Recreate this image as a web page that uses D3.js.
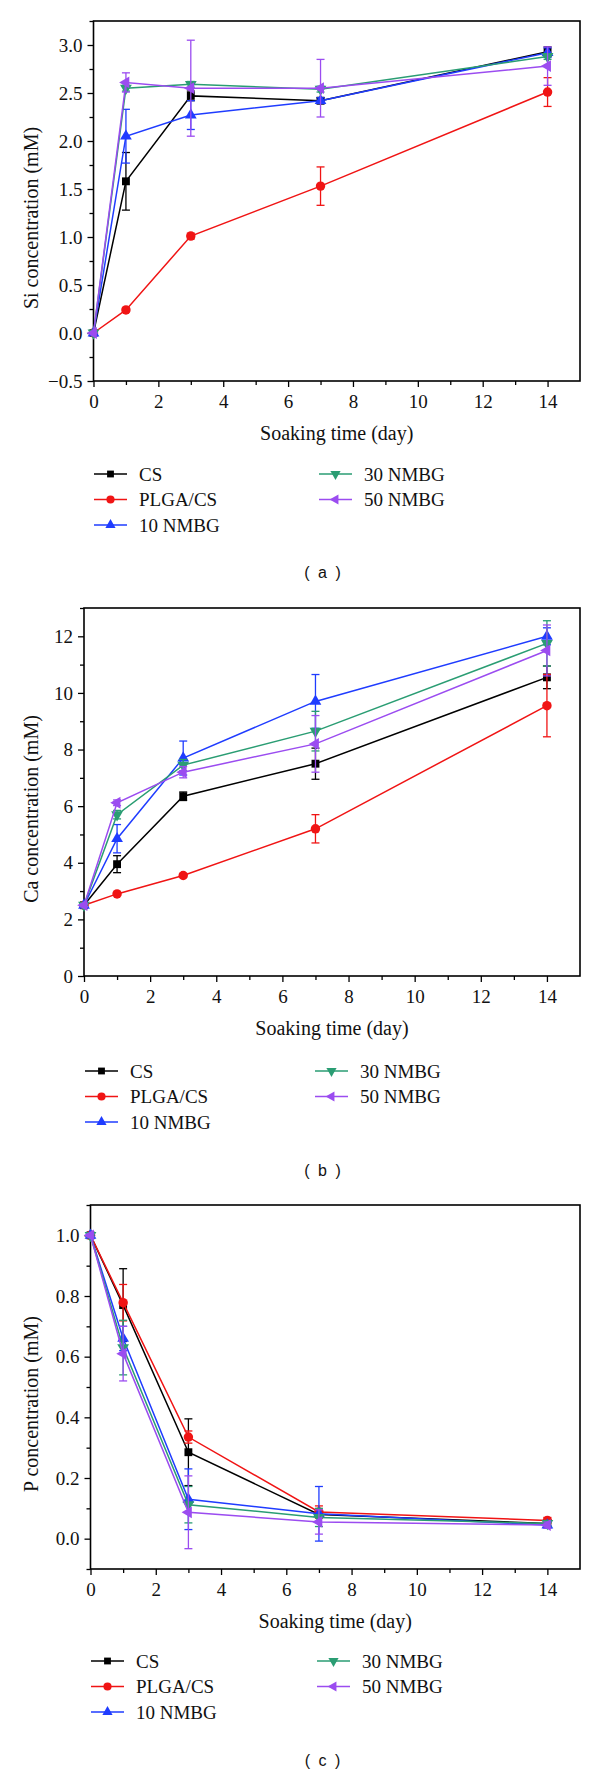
<!DOCTYPE html>
<html><head><meta charset="utf-8">
<script src="https://cdn.jsdelivr.net/npm/d3@7"></script>
<style>body{margin:0;background:#fff} svg{display:block} .serif{font-family:'Liberation Serif','Times New Roman',serif}</style>
</head><body>
<svg id="chart" width="600" height="1775"></svg>
<script>
// ---------- data ----------
const days = [0, 1, 3, 7, 14];
const seriesNames = ["CS", "PLGA/CS", "10 NMBG", "30 NMBG", "50 NMBG"];
const seriesColors = ["#000000", "#f01414", "#1f3cff", "#2a9d73", "#9b4cf0"];
const xTickValues = [0, 2, 4, 6, 8, 10, 12, 14];
const xTickLabels = ["0", "2", "4", "6", "8", "10", "12", "14"];

// (a) Si concentration
const siTickValues = [-0.5, 0, 0.5, 1, 1.5, 2, 2.5, 3];
const siTickLabels = ["\u22120.5", "0.0", "0.5", "1.0", "1.5", "2.0", "2.5", "3.0"];
const siMean = [
  [0, 1.58, 2.47, 2.42, 2.93],
  [0, 0.24, 1.01, 1.53, 2.51],
  [0, 2.05, 2.27, 2.42, 2.92],
  [0, 2.55, 2.59, 2.54, 2.88],
  [0, 2.61, 2.55, 2.55, 2.78]
];
const siErr = [
  [0, 0.30, 0.05, 0.03, 0.05],
  [0, 0.02, 0.03, 0.20, 0.15],
  [0, 0.28, 0.15, 0.03, 0.05],
  [0, 0.03, 0.03, 0.03, 0.03],
  [0, 0.10, 0.50, 0.30, 0.20]
];

// (b) Ca concentration
const caTickValues = [0, 2, 4, 6, 8, 10, 12];
const caTickLabels = ["0", "2", "4", "6", "8", "10", "12"];
const caMean = [
  [2.5, 3.95, 6.35, 7.50, 10.55],
  [2.5, 2.90, 3.55, 5.20, 9.55],
  [2.5, 4.85, 7.70, 9.70, 12.00],
  [2.5, 5.70, 7.45, 8.65, 11.75],
  [2.5, 6.12, 7.20, 8.20, 11.50]
];
const caErr = [
  [0.05, 0.30, 0.15, 0.55, 0.40],
  [0.05, 0.05, 0.05, 0.50, 1.10],
  [0.05, 0.50, 0.60, 0.95, 0.30],
  [0.05, 0.15, 0.20, 0.70, 0.80],
  [0.05, 0.10, 0.20, 1.00, 0.90]
];

// (c) P concentration
const pTickValues = [0, 0.2, 0.4, 0.6, 0.8, 1.0];
const pTickLabels = ["0.0", "0.2", "0.4", "0.6", "0.8", "1.0"];
const pMean = [
  [1.0, 0.770, 0.285, 0.080, 0.050],
  [1.0, 0.778, 0.335, 0.088, 0.060],
  [1.0, 0.660, 0.130, 0.082, 0.045],
  [1.0, 0.630, 0.112, 0.070, 0.050],
  [1.0, 0.610, 0.087, 0.055, 0.045]
];
const pErr = [
  [0.005, 0.12, 0.11, 0.010, 0.010],
  [0.005, 0.06, 0.02, 0.020, 0.010],
  [0.005, 0.04, 0.10, 0.090, 0.010],
  [0.005, 0.09, 0.06, 0.030, 0.010],
  [0.005, 0.09, 0.12, 0.040, 0.010]
];

// ---------- drawing ----------
const svg = d3.select("#chart");
svg.append("rect").attr("width", 600).attr("height", 1775).attr("fill", "#fff");
const SERIF = "'Liberation Serif', 'Times New Roman', serif";
const SANS = "'Liberation Sans', Arial, sans-serif";

const symbolTypes = [d3.symbolSquare, d3.symbolCircle, d3.symbolTriangle, d3.symbolTriangle, d3.symbolTriangle];
const symbolRot = [0, 0, 0, 180, -90];
const symbolSize = [62, 70, 60, 60, 60];

function marker(sel, i, cx, cy, scale) {
  sel.append("path")
    .attr("d", d3.symbol().type(symbolTypes[i]).size(symbolSize[i] * scale)())
    .attr("transform", `translate(${cx},${cy}) rotate(${symbolRot[i]})`)
    .attr("fill", seriesColors[i]);
}

function styleTicks(a) {
  a.select(".domain").remove();
  a.selectAll("line").attr("stroke-width", 1.3);
  a.selectAll("text").style("font-family", SERIF).style("font-size", "19px").attr("fill", "#111");
}

const panels = [
  { caption: "( a )", yLabel: "Si concentration (mM)", yDomain: [-0.5, 3.25], minorStep: 0.25,
    yTicks: siTickValues, yTickLabels: siTickLabels, mean: siMean, err: siErr,
    left: 93.5, right: 580, top: 21, bottom: 381,
    legendY: 474, legendCols: [94, 319], captionY: 572 },
  { caption: "( b )", yLabel: "Ca concentration (mM)", yDomain: [0, 13], minorStep: 1,
    yTicks: caTickValues, yTickLabels: caTickLabels, mean: caMean, err: caErr,
    left: 84, right: 580, top: 608, bottom: 976,
    legendY: 1071, legendCols: [85, 315], captionY: 1170 },
  { caption: "( c )", yLabel: "P concentration (mM)", yDomain: [-0.1, 1.1], minorStep: 0.1,
    yTicks: pTickValues, yTickLabels: pTickLabels, mean: pMean, err: pErr,
    left: 90.5, right: 580, top: 1205, bottom: 1569,
    legendY: 1661, legendCols: [91, 317], captionY: 1760 }
];

panels.forEach(p => {
  const g = svg.append("g");
  const x = d3.scaleLinear().domain([0, 15]).range([p.left, p.right]);
  const y = d3.scaleLinear().domain(p.yDomain).range([p.bottom, p.top]);

  // minor ticks
  const xMinor = d3.range(1, 15, 2);
  g.append("g").attr("transform", `translate(0,${p.bottom})`)
    .call(d3.axisBottom(x).tickValues(xMinor).tickSize(4).tickFormat(""))
    .call(styleTicks);
  const yMinor = d3.range(p.yDomain[0], p.yDomain[1] + 1e-9, p.minorStep)
    .filter(v => !p.yTicks.some(t => Math.abs(t - v) < 1e-6));
  g.append("g").attr("transform", `translate(${p.left},0)`)
    .call(d3.axisLeft(y).tickValues(yMinor).tickSize(4).tickFormat(""))
    .call(styleTicks);

  // major axes
  g.append("g").attr("transform", `translate(0,${p.bottom})`)
    .call(d3.axisBottom(x).tickValues(xTickValues).tickSize(6).tickPadding(8)
      .tickFormat((d, i) => xTickLabels[i]))
    .call(styleTicks);
  g.append("g").attr("transform", `translate(${p.left},0)`)
    .call(d3.axisLeft(y).tickValues(p.yTicks).tickSize(6).tickPadding(5)
      .tickFormat((d, i) => p.yTickLabels[i]))
    .call(styleTicks);

  // frame
  g.append("rect").attr("x", p.left).attr("y", p.top)
    .attr("width", p.right - p.left).attr("height", p.bottom - p.top)
    .attr("fill", "none").attr("stroke", "#000").attr("stroke-width", 1.6);

  // axis titles
  g.append("text").attr("x", (p.left + p.right) / 2).attr("y", p.bottom + 52)
    .attr("text-anchor", "middle").attr("dominant-baseline", "central")
    .style("font-family", SERIF).style("font-size", "20px").attr("fill", "#111")
    .text("Soaking time (day)");
  g.append("text")
    .attr("transform", `translate(31,${(p.top + p.bottom) / 2 + 17}) rotate(-90)`)
    .attr("text-anchor", "middle").attr("dominant-baseline", "central")
    .style("font-family", SERIF).style("font-size", "20px").attr("fill", "#111")
    .text(p.yLabel);

  // series
  const line = d3.line().x((d, i) => x(days[i])).y(d => y(d));
  seriesNames.forEach((name, s) => {
    const sg = g.append("g");
    const col = seriesColors[s];
    sg.append("path").datum(p.mean[s]).attr("d", line)
      .attr("fill", "none").attr("stroke", col).attr("stroke-width", 1.5);
    p.mean[s].forEach((v, i) => {
      const e = p.err[s][i];
      const cx = x(days[i]);
      const y1 = y(v + e), y2 = y(v - e);
      sg.append("line").attr("x1", cx).attr("x2", cx).attr("y1", y1).attr("y2", y2)
        .attr("stroke", col).attr("stroke-width", 1.3);
      [y1, y2].forEach(yy => sg.append("line").attr("x1", cx - 4).attr("x2", cx + 4)
        .attr("y1", yy).attr("y2", yy).attr("stroke", col).attr("stroke-width", 1.3));
      marker(sg, s, cx, y(v), 1);
    });
  });

  // legend
  seriesNames.forEach((name, s) => {
    const col = s < 3 ? 0 : 1;
    const row = s < 3 ? s : s - 3;
    const lx = p.legendCols[col];
    const ly = p.legendY + row * 25.5;
    g.append("line").attr("x1", lx).attr("x2", lx + 33).attr("y1", ly).attr("y2", ly)
      .attr("stroke", seriesColors[s]).attr("stroke-width", 1.5);
    marker(g, s, lx + 16.5, ly, 0.75);
    g.append("text").attr("x", lx + 45).attr("y", ly).attr("dominant-baseline", "central")
      .style("font-family", SERIF).style("font-size", "19px").attr("fill", "#111").text(name);
  });

  // caption
  g.append("text").attr("x", 322.5).attr("y", p.captionY)
    .attr("text-anchor", "middle").attr("dominant-baseline", "central")
    .style("font-family", SANS).style("font-size", "16px").style("word-spacing", "4px")
    .style("white-space", "pre").attr("fill", "#111").text(p.caption);
});
</script>
</body></html>
